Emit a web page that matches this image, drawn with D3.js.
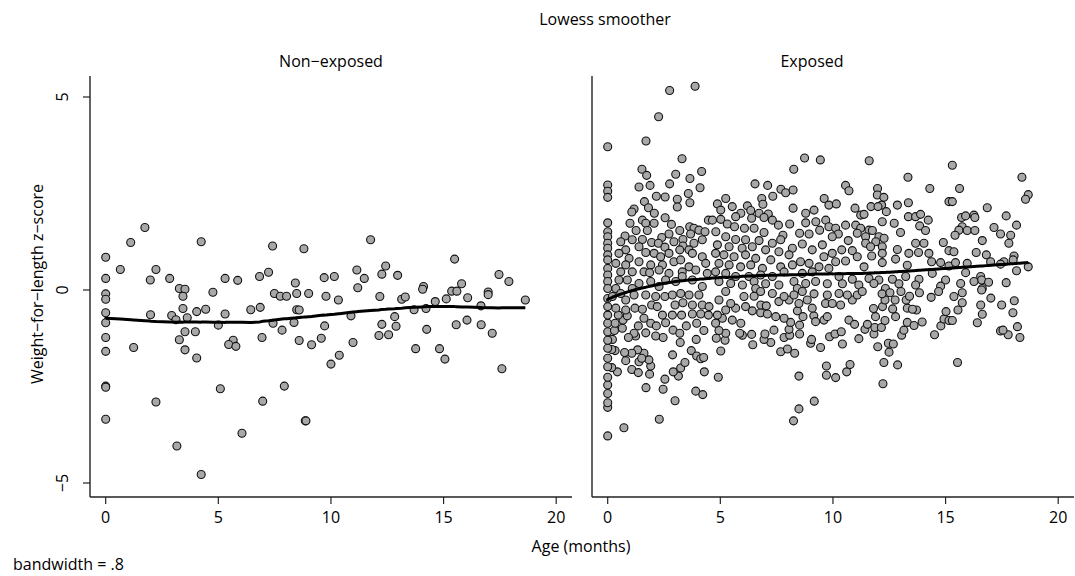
<!DOCTYPE html>
<html>
<head>
<meta charset="utf-8">
<script src="https://cdn.jsdelivr.net/npm/d3@7"></script>
<style>
  body { margin: 0; background: #fff; }
  svg text { font-family: "Open Sans", "DejaVu Sans", sans-serif; fill: #000; }
</style>
</head>
<body>
<svg id="chart" width="1075" height="576"></svg>
<script>
// panel titles and axis ticks
const panels = ["Non\u2212exposed", "Exposed"];
const xTicks = [0, 5, 10, 15, 20];
const yTicks = [-5, 0, 5];
const yTickLabels = ["\u22125", "0", "5"];
const bandwidth = 0.8;

// [age in months, weight-for-length z-score]
const nonExposed = [
  [1.74,1.62],[1.11,1.23],[4.24,1.25],[0,0.85],[0.65,0.53],[2.23,0.53],[1.98,0.26],[2.84,0.30],[0,0.30],[3.27,0.04],
  [3.52,0.02],[3.43,-0.16],[0,-0.10],[0,-0.24],[4.76,-0.06],[5.30,0.30],[5.86,0.25],[7.41,1.14],[8.80,1.07],[6.83,0.35],
  [7.23,0.46],[9.70,0.32],[8.42,0.18],[7.49,-0.09],[7.75,-0.16],[8.03,-0.16],[8.48,-0.09],[9.01,-0.09],[9.78,-0.16],[0,-0.59],
  [0,-0.85],[1.99,-0.64],[2.93,-0.66],[3.12,-0.77],[3.43,-0.48],[3.62,-0.72],[4.04,-0.56],[4.44,-0.50],[5.30,-0.62],[5.00,-0.91],
  [6.44,-0.51],[6.86,-0.45],[7.43,-0.86],[7.83,-1.04],[8.36,-0.84],[8.48,-0.51],[8.59,-0.52],[9.72,-0.93],[0,-1.23],[0,-1.59],
  [1.24,-1.49],[3.27,-1.29],[3.52,-1.08],[3.98,-1.08],[3.52,-1.55],[4.04,-1.76],[5.66,-1.30],[5.46,-1.41],[5.78,-1.46],[6.94,-1.23],
  [8.59,-1.31],[9.14,-1.42],[9.57,-1.25],[10.0,-1.92],[0,-2.49],[0,-2.52],[5.09,-2.56],[7.93,-2.49],[2.23,-2.90],[6.97,-2.88],
  [0,-3.35],[8.86,-3.39],[8.89,-3.39],[6.05,-3.71],[3.16,-4.04],[4.24,-4.78],
  [10.15,0.35],[11.76,1.30],[11.15,0.52],[11.48,0.30],[11.19,0.06],[12.43,0.62],[12.26,0.41],[12.96,0.38],[10.33,-0.26],[12.17,-0.17],
  [13.14,-0.24],[13.30,-0.18],[14.11,0.09],[14.07,0.02],[15.49,0.80],[15.80,0.16],[15.36,-0.03],[15.59,-0.03],[14.63,-0.30],[15.12,-0.23],
  [16.07,-0.20],[16.98,-0.05],[16.98,-0.12],[17.46,0.40],[17.90,0.22],[18.63,-0.26],[16.66,-0.41],[10.89,-0.67],[13.69,-0.51],[14.22,-0.48],
  [12.83,-0.69],[12.26,-0.89],[12.89,-0.94],[12.13,-1.18],[12.56,-1.16],[14.25,-1.02],[15.56,-0.90],[16.04,-0.78],[16.67,-0.90],[17.16,-1.12],
  [10.98,-1.36],[10.37,-1.69],[13.76,-1.52],[14.82,-1.52],[15.06,-1.79],[17.59,-2.04]
];

const exposed = [
  // 0-4.5 months, above zero
  [2.75,5.17],[3.88,5.28],[2.26,4.49],[0,3.71],[1.70,3.86],[3.30,3.40],[1.52,3.13],[1.73,2.97],[3.02,3.00],[4.17,3.07],
  [3.65,2.89],[2.75,2.75],[1.88,2.71],[1.39,2.67],[4.10,2.65],[0,2.72],[0,2.56],[0,2.40],[3.58,2.50],[2.16,2.43],
  [2.55,2.41],[3.09,2.35],[3.09,2.15],[3.65,2.26],[1.63,2.29],[1.17,2.10],[1.07,2.02],[1.81,2.13],[2.07,1.99],[0,1.74],
  [2.55,1.87],[2.83,1.70],[4.47,1.81],[0.99,1.73],[1.54,1.81],[1.69,1.73],[2.06,1.73],
  [0,1.51],[0,1.38],[0.77,1.40],[1.26,1.54],[1.76,1.54],[3.20,1.54],[3.64,1.64],[3.83,1.60],[4.05,1.55],[4.32,1.51],
  [3.68,1.45],[3.34,1.31],[2.72,1.45],[2.40,1.36],[0,1.21],[0,1.08],[0.58,1.25],[1.09,1.30],[1.54,1.31],[1.95,1.23],
  [2.25,1.21],[2.94,1.25],[3.34,1.14],[3.83,1.21],[4.20,1.30],[0.80,1.04],[1.39,1.12],[2.54,1.11],[3.20,1.04],[3.61,1.04],
  [0,0.91],[0,0.78],[0.50,0.95],[0.95,0.82],[1.69,0.97],[2.06,0.95],[2.35,0.86],[2.72,0.95],[2.94,0.73],[3.24,0.78],
  [3.76,0.95],[4.20,0.86],[0.36,0.69],[0.80,0.65],[1.39,0.73],[1.91,0.65],[2.43,0.65],[3.61,0.60],[4.35,0.69],[0,0.56],
  [0,0.39],[0,0.22],[0,0.04],[0.58,0.47],[1.09,0.47],[1.61,0.47],[1.86,0.45],[2.28,0.52],[2.72,0.43],[3.31,0.47],
  [3.91,0.52],[4.42,0.43],[0.50,0.26],[0.87,0.26],[1.39,0.17],[1.91,0.22],[2.57,0.26],[3.02,0.22],[3.31,0.35],[3.76,0.26],
  [4.20,0.09],[0.36,0.04],[1.09,0.04],[2.28,0.09],
  // 0-4.5 months, below zero
  [0,-3.78],[0.72,-3.57],[2.29,-3.35],[0,-3.04],[0,-2.92],[0,-2.68],[0,-2.46],[0,-2.26],[1.70,-2.53],[2.46,-2.57],
  [2.99,-2.87],[3.91,-2.62],[4.22,-2.71],[2.54,-2.31],[3.14,-2.23],[2.91,-2.12],[3.24,-2.02],[3.43,-1.88],[4.29,-2.12],[2.88,-1.68],
  [3.71,-1.57],[3.95,-1.71],[4.13,-1.78],[4.26,-1.75],[1.86,-2.18],[1.91,-1.97],[1.83,-1.81],[1.61,-1.64],[1.33,-1.55],[1.07,-1.64],
  [0.75,-1.62],[0.80,-1.83],[1.07,-2.06],[1.36,-2.14],[1.39,-1.86],[1.51,-1.77],[0.43,-2.12],[0.18,-2.01],[0,-1.99],[0,-1.77],
  [0.33,-1.57],[0.18,-1.54],[0,-1.51],[0.21,-1.28],[0,-1.30],[0,-1.08],[0,-0.86],[0,-0.65],[0,-0.43],[0,-0.22],
  [3.22,-1.36],[3.93,-1.28],[2.46,-1.23],[2.13,-1.19],[1.69,-1.11],[1.24,-1.19],[1.17,-1.12],[0.92,-1.23],[1.36,-0.93],[0.65,-0.99],
  [0.30,-1.05],[0.33,-0.86],[0.68,-0.78],[0.47,-0.65],[0.87,-0.67],[0.36,-0.47],[0.80,-0.52],[1.21,-0.47],[1.54,-0.50],[1.95,-0.39],
  [2.20,-0.43],[1.61,-0.73],[1.91,-0.86],[2.16,-0.93],[2.57,-0.85],[2.90,-1.04],[3.20,-1.12],[3.49,-0.93],[3.95,-0.86],[4.27,-1.05],
  [2.43,-0.65],[2.87,-0.65],[3.28,-0.65],[3.76,-0.62],[4.13,-0.62],[4.47,-0.65],[2.99,-0.39],[3.34,-0.33],[3.76,-0.39],[4.20,-0.39],
  [4.50,-0.43],[2.54,-0.17],[2.87,-0.13],[3.24,-0.09],[3.61,-0.13],[4.05,-0.13],[0.80,-0.26],[1.17,-0.13],[1.69,-0.13],[2.13,-0.17],
  [0.58,-0.09],[0.21,-0.17],
  // 4.5-10 months, above zero
  [8.74,3.42],[9.44,3.37],[8.26,3.13],[6.54,2.75],[7.10,2.71],[7.69,2.61],[7.90,2.52],[8.23,2.59],[7.33,2.43],[6.84,2.37],
  [9.61,2.37],[5.24,2.37],[6.89,2.22],[4.87,2.23],[8.23,2.12],[5.53,2.16],[6.20,2.18],[5.02,2.07],[5.91,1.99],[6.35,2.06],
  [6.72,1.99],[7.13,1.97],[8.79,1.99],[9.16,2.07],[9.82,2.20],[5.68,1.90],[6.39,1.86],[6.94,1.88],[7.31,1.81],[7.58,1.68],
  [8.08,1.71],[8.79,1.74],[9.24,1.77],[9.68,1.81],[5.02,1.83],[5.31,1.71],[4.65,1.81],[4.80,1.51],[5.63,1.64],[6.07,1.60],
  [6.50,1.60],[6.94,1.49],[7.78,1.42],[8.52,1.47],[8.94,1.45],[9.41,1.55],[9.82,1.64],[5.24,1.38],[5.68,1.31],[6.12,1.30],
  [6.72,1.28],[7.31,1.21],[7.68,1.30],[8.20,1.08],[8.64,1.19],[9.08,1.04],[9.53,1.17],[4.87,1.17],[5.39,1.12],[5.97,1.08],
  [6.42,1.12],[7.01,1.04],[7.60,0.99],[4.79,0.95],[5.16,0.91],[5.61,0.86],[6.12,0.91],[6.57,0.82],[7.24,0.78],[8.05,0.91],
  [8.56,0.73],[8.94,0.69],[9.60,0.86],[4.94,0.69],[5.39,0.65],[5.90,0.60],[6.35,0.65],[6.87,0.56],[7.68,0.60],[8.20,0.65],
  [9.38,0.60],[9.82,0.56],[4.79,0.47],[5.24,0.43],[5.68,0.35],[6.27,0.35],[6.79,0.39],[7.31,0.35],[7.83,0.47],[8.64,0.43],
  [9.08,0.47],[4.94,0.22],[5.46,0.17],[5.98,0.13],[6.50,0.22],[7.01,0.16],[7.60,0.13],[8.27,0.22],[8.79,0.17],[9.23,0.22],
  [9.75,0.16],[6.57,0.04],[8.42,0.04],
  // 4.5-10 months, below zero
  [4.91,-2.26],[8.49,-2.23],[9.71,-1.97],[9.71,-2.21],[9.17,-2.88],[8.49,-3.08],[8.25,-3.39],[5.02,-1.58],[6.44,-1.42],[7.68,-1.60],
  [7.98,-1.53],[8.30,-1.64],[9.45,-1.49],[7.24,-1.36],[6.94,-1.28],[9.01,-1.38],[9.85,-1.21],[4.82,-1.25],[5.21,-1.30],[5.24,-1.12],
  [5.98,-1.17],[6.39,-1.15],[6.98,-1.14],[7.83,-1.23],[8.08,-1.17],[8.52,-1.14],[9.05,-1.28],[5.86,-1.12],[7.38,-1.04],[8.05,-1.02],
  [8.52,-0.91],[8.12,-0.84],[4.94,-1.05],[4.79,-0.86],[5.09,-0.73],[5.91,-0.86],[5.53,-0.78],[6.42,-0.54],[6.79,-0.59],[7.09,-0.62],
  [7.46,-0.69],[7.83,-0.73],[8.67,-0.69],[9.15,-0.67],[9.60,-0.78],[9.23,-0.82],[9.75,-0.69],[8.42,-0.54],[9.08,-0.47],[4.87,-0.65],
  [5.24,-0.52],[5.68,-0.47],[6.12,-0.43],[6.80,-0.39],[7.04,-0.41],[7.60,-0.30],[8.05,-0.26],[8.49,-0.35],[8.86,-0.26],[9.67,-0.35],
  [4.94,-0.26],[5.46,-0.35],[6.05,-0.17],[6.50,-0.16],[7.31,-0.09],[7.83,-0.17],[8.27,-0.13],[9.16,-0.10],[9.75,-0.13],[5.24,-0.04],
  [6.79,-0.04],[8.64,-0.04],
  // 10-15 months, above zero
  [11.61,3.35],[13.33,2.92],[14.30,2.63],[10.56,2.71],[10.71,2.57],[11.98,2.63],[11.97,2.46],[12.26,2.40],[10.15,2.23],[11.69,2.16],
  [12.16,2.20],[12.86,2.20],[13.35,2.26],[15.15,2.29],[10.98,2.12],[11.23,1.94],[11.38,1.96],[12.00,2.16],[12.37,2.03],[13.35,1.90],
  [13.67,1.90],[13.89,1.96],[14.23,1.81],[12.19,1.77],[12.72,1.73],[10.56,1.68],[11.01,1.68],[13.85,1.66],[14.11,1.54],[13.00,1.49],
  [11.60,1.55],[11.75,1.54],[11.23,1.60],[10.12,1.60],[10.24,1.45],[10.68,1.28],[11.08,1.47],[11.45,1.38],[12.04,1.38],[12.27,1.34],
  [11.45,1.21],[11.90,1.25],[9.97,1.38],[10.39,1.04],[10.86,1.02],[11.67,1.12],[12.19,1.12],[12.86,1.05],[13.67,1.21],[14.04,1.21],
  [14.90,1.23],[15.15,1.02],[9.97,0.95],[10.56,0.75],[11.08,0.86],[11.72,0.88],[12.19,0.95],[12.78,0.80],[13.37,0.95],[14.26,0.95],
  [13.80,0.97],[10.12,0.73],[11.38,0.60],[12.19,0.71],[13.30,0.64],[14.38,0.73],[14.78,0.71],[15.15,0.62],[10.27,0.35],[10.86,0.28],
  [11.60,0.30],[12.04,0.26],[12.64,0.28],[13.23,0.35],[13.82,0.28],[14.41,0.43],[15.00,0.26],[10.42,0.16],[11.15,0.13],[11.82,0.17],
  [12.93,0.16],[13.67,0.13],[14.78,0.10],[12.33,0.04],
  // 10-15 months, below zero
  [12.22,-2.43],[10.12,-2.27],[10.61,-2.12],[10.76,-1.93],[12.26,-1.88],[12.87,-1.94],[10.42,-1.40],[11.15,-1.26],[11.99,-1.47],[12.49,-1.61],
  [12.46,-1.38],[12.68,-1.40],[14.51,-1.16],[13.05,-1.17],[13.15,-1.04],[10.09,-1.14],[10.37,-1.08],[11.42,-1.02],[11.82,-1.14],[11.53,-0.89],
  [11.86,-0.97],[12.15,-0.97],[12.31,-0.79],[11.89,-0.69],[10.71,-0.78],[10.96,-0.89],[12.78,-0.69],[13.30,-0.84],[13.60,-0.92],[13.96,-0.83],
  [14.79,-0.93],[14.93,-0.75],[15.15,-0.79],[15.02,-0.56],[13.30,-0.47],[13.71,-0.52],[13.53,-0.50],[12.65,-0.49],[12.20,-0.43],[11.80,-0.48],
  [10.34,-0.39],[9.97,-0.35],[12.31,-0.26],[12.76,-0.26],[13.25,-0.26],[10.86,-0.26],[10.64,-0.13],[11.08,-0.13],[11.30,-0.04],[12.18,-0.10],
  [12.53,-0.07],[13.02,-0.04],[13.40,-0.16],[13.84,-0.07],[14.36,-0.19],[14.69,-0.04],[10.27,-0.09],
  // 15-19 months
  [15.30,3.23],[18.39,2.92],[18.67,2.47],[18.55,2.35],[15.62,2.63],[15.30,2.29],[16.85,2.13],[15.71,1.88],[15.89,1.92],[16.26,1.94],
  [16.30,1.88],[17.69,1.92],[18.15,1.68],[17.15,1.62],[17.44,1.45],[17.89,1.42],[17.81,1.21],[15.74,1.64],[15.96,1.54],[16.30,1.54],
  [15.59,1.55],[15.42,1.42],[16.63,1.28],[16.36,0.97],[16.81,0.91],[17.00,0.73],[18.04,0.88],[18.00,0.78],[17.59,0.73],[17.44,0.67],
  [15.37,0.99],[15.44,0.71],[15.96,0.69],[15.89,0.45],[18.15,0.50],[18.67,0.60],[16.56,0.35],[16.60,0.26],[15.67,0.17],[16.26,0.22],
  [16.91,0.20],[17.69,0.19],[16.63,0.04],
  [15.53,-1.88],[18.30,-1.23],[18.19,-0.95],[17.78,-1.16],[17.44,-1.06],[17.55,-1.04],[17.99,-0.59],[18.05,-0.28],[17.49,-0.39],[17.01,-0.21],
  [16.56,-0.39],[16.63,-0.63],[16.41,-0.85],[15.55,-0.52],[15.74,-0.33],[15.74,-0.07],[15.37,-0.17],[16.60,0],[15.30,-0.79]
];

const groups = [nonExposed, exposed];

// Stata style lowess: tricube weights, running line, no robustness steps
function lowess(points, bw) {
  const pts = points.slice().sort((a, b) => a[0] - b[0]);
  const n = pts.length;
  const k = Math.floor((n * bw - 0.5) / 2);
  return pts.map((p, i) => {
    const lo = Math.max(0, i - k), hi = Math.min(n - 1, i + k);
    const xi = p[0];
    const delta = 1.0001 * Math.max(pts[hi][0] - xi, xi - pts[lo][0]);
    let sw = 0, sx = 0, sy = 0, sxx = 0, sxy = 0;
    for (let j = lo; j <= hi; j++) {
      const u = Math.abs(pts[j][0] - xi) / delta;
      const w = u < 1 ? Math.pow(1 - u * u * u, 3) : 0;
      sw += w; sx += w * pts[j][0]; sy += w * pts[j][1];
      sxx += w * pts[j][0] * pts[j][0]; sxy += w * pts[j][0] * pts[j][1];
    }
    const mx = sx / sw, my = sy / sw;
    const vx = sxx / sw - mx * mx;
    const b = vx > 1e-12 ? (sxy / sw - mx * my) / vx : 0;
    return [xi, my + b * (xi - mx)];
  });
}

const svg = d3.select("#chart");

// layout of the two panels
const panelLeft = [90, 592];
const panelWidth = 482;
const plotTop = 76, plotBottom = 497;

const yScale = d3.scaleLinear().domain([-5, 5]).range([483, 97]);

groups.forEach((data, g) => {
  const left = panelLeft[g];
  const xScale = d3.scaleLinear().domain([0, 20]).range([left + 15.7, left + 466.2]);
  const p = svg.append("g");

  // axis lines
  p.append("line")
    .attr("x1", left).attr("x2", left)
    .attr("y1", plotTop).attr("y2", plotBottom)
    .attr("stroke", "#222").attr("stroke-width", 1.4);
  p.append("line")
    .attr("x1", left).attr("x2", left + panelWidth)
    .attr("y1", plotBottom).attr("y2", plotBottom)
    .attr("stroke", "#222").attr("stroke-width", 1.4);

  // x ticks
  const xt = p.selectAll(".xt").data(xTicks).enter().append("g")
    .attr("transform", d => `translate(${xScale(d)},${plotBottom})`);
  xt.append("line").attr("y1", 0).attr("y2", 7).attr("stroke", "#222").attr("stroke-width", 1.2);
  xt.append("text").attr("y", 26).attr("text-anchor", "middle")
    .style("font-size", "16px").text(d => d);

  // y ticks only on the first panel
  if (g === 0) {
    const yt = p.selectAll(".yt").data(yTicks).enter().append("g")
      .attr("transform", d => `translate(${left},${yScale(d)})`);
    yt.append("line").attr("x1", -7).attr("x2", 0).attr("stroke", "#222").attr("stroke-width", 1.2);
    yt.append("text").attr("transform", "translate(-22,0) rotate(-90)")
      .attr("text-anchor", "middle")
      .style("font-size", "16px").text((d, i) => yTickLabels[i]);
  }

  // panel title
  p.append("text")
    .attr("x", g === 0 ? 331 : 812).attr("y", 67)
    .attr("text-anchor", "middle").style("font-size", "16px")
    .text(panels[g]);

  // points
  p.selectAll("circle").data(data).enter().append("circle")
    .attr("cx", d => xScale(d[0]))
    .attr("cy", d => yScale(d[1]))
    .attr("r", 4)
    .attr("fill", "#a8a8a8")
    .attr("stroke", "#111")
    .attr("stroke-width", 1.1);

  // lowess line
  const smooth = lowess(data, bandwidth);
  p.append("path")
    .datum(smooth)
    .attr("fill", "none")
    .attr("stroke", "#000")
    .attr("stroke-width", 3)
    .attr("stroke-linejoin", "round")
    .attr("d", d3.line().x(d => xScale(d[0])).y(d => yScale(d[1])));
});

// titles and notes
svg.append("text").attr("x", 605).attr("y", 25).attr("text-anchor", "middle")
  .style("font-size", "16px").text("Lowess smoother");
svg.append("text").attr("transform", "translate(43,284) rotate(-90)")
  .attr("text-anchor", "middle").style("font-size", "16px")
  .text("Weight\u2212for\u2212length z\u2212score");
svg.append("text").attr("x", 581).attr("y", 552).attr("text-anchor", "middle")
  .style("font-size", "16px").text("Age (months)");
svg.append("text").attr("x", 13).attr("y", 570)
  .style("font-size", "16px").text("bandwidth = .8");
</script>
</body>
</html>
